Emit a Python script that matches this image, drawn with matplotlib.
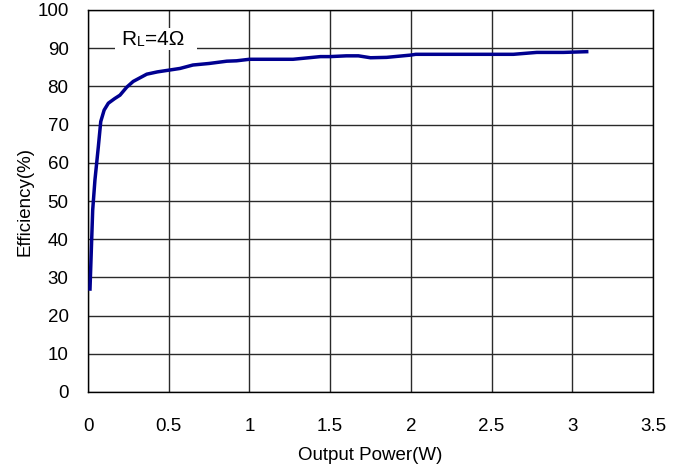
import matplotlib
matplotlib.use("Agg")
import matplotlib.pyplot as plt
from matplotlib.patches import Rectangle

plt.rcParams['font.family'] = ['Liberation Sans', 'DejaVu Sans']

# Data
power_w = [0.012, 0.029, 0.043, 0.064, 0.079, 0.10, 0.126, 0.165, 0.198, 0.24,
           0.28, 0.364, 0.43, 0.508, 0.57, 0.65, 0.75, 0.86, 0.92, 1.0,
           1.1, 1.27, 1.44, 1.5, 1.6, 1.675, 1.72, 1.75, 1.85, 2.0, 2.03,
           2.3, 2.635, 2.78, 2.945, 3.10]
efficiency = [26.5, 47.6, 55.5, 64.2, 70.8, 73.8, 75.6, 76.8, 77.7, 79.8,
              81.3, 83.2, 83.8, 84.3, 84.7, 85.6, 86.0, 86.6, 86.7, 87.1,
              87.1, 87.1, 87.8, 87.8, 88.0, 88.0, 87.7, 87.5, 87.6, 88.2, 88.4,
              88.4, 88.4, 88.9, 88.9, 89.1]
x_ticks = [0, 0.5, 1, 1.5, 2, 2.5, 3, 3.5]
y_ticks = [0, 10, 20, 30, 40, 50, 60, 70, 80, 90, 100]

fig = plt.figure(figsize=(6.8, 4.68), dpi=100)
ax = fig.add_axes([88/680, 1 - 392/468, 565/680, 382/468])

ax.plot(power_w, efficiency, color='#000090', lw=2.5, solid_capstyle='butt',
        solid_joinstyle='round', zorder=3)

ax.set_xlim(0, 3.5)
ax.set_ylim(0, 100)
ax.set_xticks(x_ticks)
ax.set_xticklabels([f"{t:g}" for t in x_ticks])
ax.set_yticks(y_ticks)
ax.set_axisbelow(True)
ax.grid(True, color='#2a2a2a', lw=1.0)
ax.tick_params(axis='both', length=0, labelsize=13.5)
ax.tick_params(axis='x', pad=19)
ax.tick_params(axis='y', pad=14)
for s in ax.spines.values():
    s.set_color('black')
    s.set_linewidth(1.0)

ax.set_xlabel('Output Power(W)', fontsize=13.5, labelpad=8)
ax.set_ylabel('Efficiency(%)', fontsize=13.5, labelpad=3)

# Label with white background
ax.add_patch(Rectangle((27/565, 342/382), 82/565, 22/382, transform=ax.transAxes,
                       facecolor='white', edgecolor='none', zorder=1.5))
t1 = ax.text(0.0597, 0.908, 'R', transform=ax.transAxes, fontsize=15,
             va='baseline', ha='left', zorder=4)
t2 = ax.annotate('L', xy=(1, 0), xycoords=t1, fontsize=10, va='bottom', ha='left', zorder=4)
t3 = ax.annotate('=4Ω', xy=(1, 0), xycoords=t2, fontsize=15, va='bottom', ha='left', zorder=4)

fig.savefig('out.png', dpi=100)
